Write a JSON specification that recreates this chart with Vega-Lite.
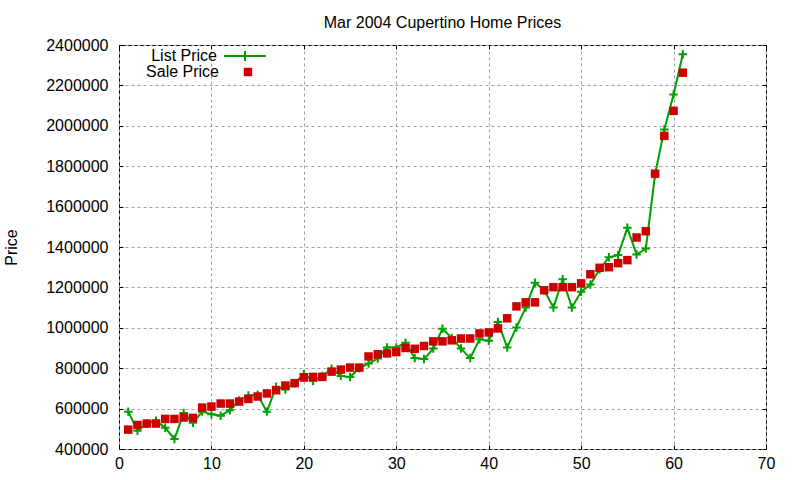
{
  "$schema": "https://vega.github.io/schema/vega-lite/v6.json",
  "width": 647,
  "height": 404,
  "autosize": {"type": "none"},
  "padding": {"left": 119, "top": 45, "right": 34, "bottom": 31},
  "background": "white",
  "title": {
    "text": "Mar 2004 Cupertino Home Prices",
    "font": "Liberation Sans",
    "fontSize": 16,
    "fontWeight": "normal",
    "color": "black",
    "anchor": "middle",
    "offset": 6
  },
  "data": {
    "values": [
      {"x": 1, "price": 585000, "series": "List Price"},
      {"x": 2, "price": 490000, "series": "List Price"},
      {"x": 3, "price": 525000, "series": "List Price"},
      {"x": 4, "price": 540000, "series": "List Price"},
      {"x": 5, "price": 505000, "series": "List Price"},
      {"x": 6, "price": 450000, "series": "List Price"},
      {"x": 7, "price": 578000, "series": "List Price"},
      {"x": 8, "price": 530000, "series": "List Price"},
      {"x": 9, "price": 585000, "series": "List Price"},
      {"x": 10, "price": 572000, "series": "List Price"},
      {"x": 11, "price": 565000, "series": "List Price"},
      {"x": 12, "price": 592000, "series": "List Price"},
      {"x": 13, "price": 640000, "series": "List Price"},
      {"x": 14, "price": 665000, "series": "List Price"},
      {"x": 15, "price": 668000, "series": "List Price"},
      {"x": 16, "price": 585000, "series": "List Price"},
      {"x": 17, "price": 708000, "series": "List Price"},
      {"x": 18, "price": 695000, "series": "List Price"},
      {"x": 19, "price": 726000, "series": "List Price"},
      {"x": 20, "price": 771000, "series": "List Price"},
      {"x": 21, "price": 737000, "series": "List Price"},
      {"x": 22, "price": 762000, "series": "List Price"},
      {"x": 23, "price": 797000, "series": "List Price"},
      {"x": 24, "price": 762000, "series": "List Price"},
      {"x": 25, "price": 756000, "series": "List Price"},
      {"x": 26, "price": 800000, "series": "List Price"},
      {"x": 27, "price": 823000, "series": "List Price"},
      {"x": 28, "price": 848000, "series": "List Price"},
      {"x": 29, "price": 903000, "series": "List Price"},
      {"x": 30, "price": 903000, "series": "List Price"},
      {"x": 31, "price": 926000, "series": "List Price"},
      {"x": 32, "price": 850000, "series": "List Price"},
      {"x": 33, "price": 845000, "series": "List Price"},
      {"x": 34, "price": 897000, "series": "List Price"},
      {"x": 35, "price": 995000, "series": "List Price"},
      {"x": 36, "price": 950000, "series": "List Price"},
      {"x": 37, "price": 897000, "series": "List Price"},
      {"x": 38, "price": 850000, "series": "List Price"},
      {"x": 39, "price": 943000, "series": "List Price"},
      {"x": 40, "price": 936000, "series": "List Price"},
      {"x": 41, "price": 1029000, "series": "List Price"},
      {"x": 42, "price": 903000, "series": "List Price"},
      {"x": 43, "price": 1002000, "series": "List Price"},
      {"x": 44, "price": 1100000, "series": "List Price"},
      {"x": 45, "price": 1223000, "series": "List Price"},
      {"x": 46, "price": 1186000, "series": "List Price"},
      {"x": 47, "price": 1101000, "series": "List Price"},
      {"x": 48, "price": 1240000, "series": "List Price"},
      {"x": 49, "price": 1101000, "series": "List Price"},
      {"x": 50, "price": 1179000, "series": "List Price"},
      {"x": 51, "price": 1214000, "series": "List Price"},
      {"x": 52, "price": 1290000, "series": "List Price"},
      {"x": 53, "price": 1349000, "series": "List Price"},
      {"x": 54, "price": 1360000, "series": "List Price"},
      {"x": 55, "price": 1495000, "series": "List Price"},
      {"x": 56, "price": 1363000, "series": "List Price"},
      {"x": 57, "price": 1392000, "series": "List Price"},
      {"x": 58, "price": 1760000, "series": "List Price"},
      {"x": 59, "price": 1982000, "series": "List Price"},
      {"x": 60, "price": 2155000, "series": "List Price"},
      {"x": 61, "price": 2354000, "series": "List Price"},
      {"x": 1, "price": 496000, "series": "Sale Price"},
      {"x": 2, "price": 519000, "series": "Sale Price"},
      {"x": 3, "price": 526000, "series": "Sale Price"},
      {"x": 4, "price": 526000, "series": "Sale Price"},
      {"x": 5, "price": 549000, "series": "Sale Price"},
      {"x": 6, "price": 549000, "series": "Sale Price"},
      {"x": 7, "price": 556000, "series": "Sale Price"},
      {"x": 8, "price": 554000, "series": "Sale Price"},
      {"x": 9, "price": 605000, "series": "Sale Price"},
      {"x": 10, "price": 610000, "series": "Sale Price"},
      {"x": 11, "price": 625000, "series": "Sale Price"},
      {"x": 12, "price": 625000, "series": "Sale Price"},
      {"x": 13, "price": 635000, "series": "Sale Price"},
      {"x": 14, "price": 648000, "series": "Sale Price"},
      {"x": 15, "price": 660000, "series": "Sale Price"},
      {"x": 16, "price": 675000, "series": "Sale Price"},
      {"x": 17, "price": 691000, "series": "Sale Price"},
      {"x": 18, "price": 714000, "series": "Sale Price"},
      {"x": 19, "price": 726000, "series": "Sale Price"},
      {"x": 20, "price": 754000, "series": "Sale Price"},
      {"x": 21, "price": 757000, "series": "Sale Price"},
      {"x": 22, "price": 757000, "series": "Sale Price"},
      {"x": 23, "price": 783000, "series": "Sale Price"},
      {"x": 24, "price": 793000, "series": "Sale Price"},
      {"x": 25, "price": 803000, "series": "Sale Price"},
      {"x": 26, "price": 803000, "series": "Sale Price"},
      {"x": 27, "price": 858000, "series": "Sale Price"},
      {"x": 28, "price": 869000, "series": "Sale Price"},
      {"x": 29, "price": 873000, "series": "Sale Price"},
      {"x": 30, "price": 880000, "series": "Sale Price"},
      {"x": 31, "price": 900000, "series": "Sale Price"},
      {"x": 32, "price": 896000, "series": "Sale Price"},
      {"x": 33, "price": 910000, "series": "Sale Price"},
      {"x": 34, "price": 933000, "series": "Sale Price"},
      {"x": 35, "price": 933000, "series": "Sale Price"},
      {"x": 36, "price": 938000, "series": "Sale Price"},
      {"x": 37, "price": 947000, "series": "Sale Price"},
      {"x": 38, "price": 947000, "series": "Sale Price"},
      {"x": 39, "price": 972000, "series": "Sale Price"},
      {"x": 40, "price": 977000, "series": "Sale Price"},
      {"x": 41, "price": 997000, "series": "Sale Price"},
      {"x": 42, "price": 1047000, "series": "Sale Price"},
      {"x": 43, "price": 1106000, "series": "Sale Price"},
      {"x": 44, "price": 1126000, "series": "Sale Price"},
      {"x": 45, "price": 1126000, "series": "Sale Price"},
      {"x": 46, "price": 1186000, "series": "Sale Price"},
      {"x": 47, "price": 1201000, "series": "Sale Price"},
      {"x": 48, "price": 1201000, "series": "Sale Price"},
      {"x": 49, "price": 1201000, "series": "Sale Price"},
      {"x": 50, "price": 1220000, "series": "Sale Price"},
      {"x": 51, "price": 1265000, "series": "Sale Price"},
      {"x": 52, "price": 1297000, "series": "Sale Price"},
      {"x": 53, "price": 1300000, "series": "Sale Price"},
      {"x": 54, "price": 1320000, "series": "Sale Price"},
      {"x": 55, "price": 1335000, "series": "Sale Price"},
      {"x": 56, "price": 1447000, "series": "Sale Price"},
      {"x": 57, "price": 1478000, "series": "Sale Price"},
      {"x": 58, "price": 1763000, "series": "Sale Price"},
      {"x": 59, "price": 1950000, "series": "Sale Price"},
      {"x": 60, "price": 2074000, "series": "Sale Price"},
      {"x": 61, "price": 2263000, "series": "Sale Price"}
    ]
  },
  "layer": [
    {
      "transform": [{"filter": "datum.series == 'List Price'"}],
      "mark": {"type": "line", "strokeWidth": 2},
      "encoding": {
        "x": {
          "field": "x",
          "type": "quantitative",
          "scale": {"domain": [0, 70], "nice": false, "zero": false},
          "axis": {"orient": "bottom", "values": [0, 10, 20, 30, 40, 50, 60, 70], "title": null, "grid": true}
        },
        "y": {
          "field": "price",
          "type": "quantitative",
          "scale": {"domain": [400000, 2400000], "nice": false, "zero": false},
          "axis": {
            "orient": "left",
            "values": [400000, 600000, 800000, 1000000, 1200000, 1400000, 1600000, 1800000, 2000000, 2200000, 2400000],
            "format": "d",
            "title": "Price",
            "grid": true,
            "labelPadding": 15,
            "titlePadding": 26
          }
        },
        "stroke": {
          "field": "series",
          "type": "nominal",
          "scale": {"domain": ["List Price"], "range": ["#00a000"]},
          "legend": {
            "orient": "none",
            "legendX": 118,
            "legendY": 3,
            "title": null,
            "padding": 0,
            "symbolType": "M-5.25,0H5.25M0,-1.25V1.25",
            "symbolSize": 64,
            "symbolStrokeWidth": 2,
            "symbolStrokeColor": "#00a000",
            "labelAlign": "right",
            "labelOffset": -36,
            "labelFont": "Liberation Sans",
            "labelFontSize": 16,
            "labelColor": "black"
          }
        }
      }
    },
    {
      "transform": [{"filter": "datum.series == 'List Price'"}],
      "mark": {"type": "point", "shape": "M-1,0H1M0,-1V1", "filled": false, "size": 72, "strokeWidth": 2, "color": "#00a000", "opacity": 1},
      "encoding": {
        "x": {
          "field": "x",
          "type": "quantitative",
          "axis": {"orient": "top", "values": [0, 10, 20, 30, 40, 50, 60, 70], "labels": false, "title": null, "grid": false}
        },
        "y": {
          "field": "price",
          "type": "quantitative",
          "axis": {
            "orient": "right",
            "values": [400000, 600000, 800000, 1000000, 1200000, 1400000, 1600000, 1800000, 2000000, 2200000, 2400000],
            "labels": false,
            "title": null,
            "grid": false
          }
        }
      }
    },
    {
      "transform": [{"filter": "datum.series == 'Sale Price'"}],
      "mark": {"type": "point", "shape": "square", "filled": true, "size": 72, "opacity": 1},
      "encoding": {
        "x": {"field": "x", "type": "quantitative", "axis": null},
        "y": {"field": "price", "type": "quantitative", "axis": null},
        "fill": {
          "field": "series",
          "type": "nominal",
          "scale": {"domain": ["Sale Price"], "range": ["#cc0000"]},
          "legend": {
            "orient": "none",
            "legendX": 121,
            "legendY": 19,
            "title": null,
            "padding": 0,
            "symbolType": "square",
            "symbolSize": 72,
            "symbolStrokeWidth": 0,
            "symbolOpacity": 1,
            "labelAlign": "right",
            "labelOffset": -37,
            "labelFont": "Liberation Sans",
            "labelFontSize": 16,
            "labelColor": "black"
          }
        }
      }
    }
  ],
  "resolve": {"axis": {"x": "independent", "y": "independent"}},
  "config": {
    "view": {"stroke": "black", "strokeWidth": 1},
    "axis": {
      "domain": false,
      "tickSize": -4,
      "tickColor": "black",
      "tickWidth": 1,
      "labelFont": "Liberation Sans",
      "labelFontSize": 16,
      "labelColor": "black",
      "labelPadding": 10,
      "labelFlush": false,
      "titleFont": "Liberation Sans",
      "titleFontSize": 16,
      "titleFontWeight": "normal",
      "titleColor": "black",
      "gridColor": "#a0a0a0",
      "gridDash": [3, 3],
      "gridWidth": 1
    }
  }
}
